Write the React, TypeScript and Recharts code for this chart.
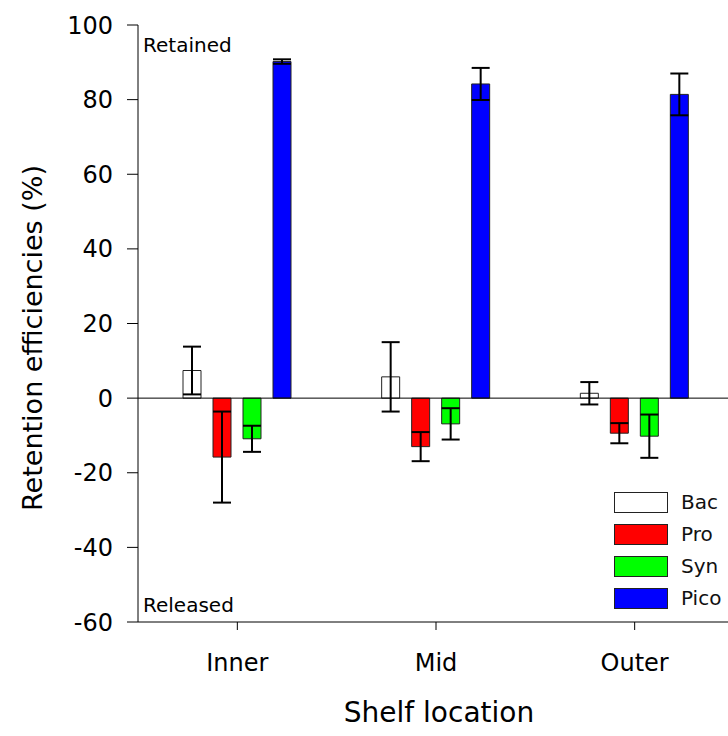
import React from 'react';
import { BarChart, Bar, XAxis, YAxis, ErrorBar, ReferenceLine, Legend } from 'recharts';

const categories = ['Inner', 'Mid', 'Outer'];
const bac = [7.4, 5.7, 1.3];
const bacErr = [6.4, 9.3, 3.0];
const pro = [-15.8, -13.0, -9.4];
const proErr = [12.2, 3.9, 2.7];
const syn = [-10.9, -6.9, -10.2];
const synErr = [3.5, 4.2, 5.8];
const pico = [90.2, 84.2, 81.4];
const picoErr = [0.6, 4.3, 5.6];
const yTicks = [-60, -40, -20, 0, 20, 40, 60, 80, 100];

const SERIES = [
  { key: 'Bac', fill: '#ffffff' },
  { key: 'Pro', fill: '#ff0000' },
  { key: 'Syn', fill: '#00ff00' },
  { key: 'Pico', fill: '#0000ff' },
];

const data = categories.map((name, i) => ({
  name,
  Bac: bac[i],
  BacErr: bacErr[i],
  Pro: pro[i],
  ProErr: proErr[i],
  Syn: syn[i],
  SynErr: synErr[i],
  Pico: pico[i],
  PicoErr: picoErr[i],
}));

const FONT = '"DejaVu Sans", Verdana, sans-serif';

const LegendBox = () => (
  <div style={{ fontFamily: FONT }}>
    {SERIES.map((s) => (
      <div key={s.key} style={{ display: 'flex', alignItems: 'center', height: 32 }}>
        <div style={{ width: 52, height: 19, background: s.fill, border: '1px solid #222' }} />
        <span style={{ marginLeft: 13, fontSize: 20, color: '#111' }}>{s.key}</span>
      </div>
    ))}
  </div>
);

export default function App() {
  return (
    <div style={{ position: 'absolute', left: 0, top: 0, width: 728, height: 736, overflow: 'hidden', background: '#fff' }}>
      <BarChart
        width={734}
        height={736}
        data={data}
        margin={{ top: 25, right: 0, bottom: 0, left: 0 }}
        barSize={18}
        barGap={12}
        style={{ fontFamily: FONT }}
      >
        <XAxis
          dataKey="name"
          height={114}
          axisLine={{ stroke: '#000', strokeWidth: 1 }}
          tickLine={{ stroke: '#000' }}
          tickSize={8}
          tickMargin={24}
          tick={{ fontSize: 24, fill: '#000' }}
        />
        <YAxis
          width={138}
          domain={[-60, 100]}
          ticks={yTicks}
          interval={0}
          axisLine={{ stroke: '#000', strokeWidth: 1 }}
          tickLine={{ stroke: '#000' }}
          tickSize={11}
          tickMargin={14}
          tick={{ fontSize: 24, fill: '#000' }}
        />
        <ReferenceLine y={0} stroke="#000" strokeWidth={1} />
        {SERIES.map((s) => (
          <Bar key={s.key} dataKey={s.key} name={s.key} fill={s.fill} stroke="#222" strokeWidth={1} isAnimationActive={false}>
            <ErrorBar dataKey={`${s.key}Err`} width={9} stroke="#000" strokeWidth={2} direction="y" />
          </Bar>
        ))}
        <Legend
          content={<LegendBox />}
          layout="vertical"
          verticalAlign="middle"
          align="center"
          wrapperStyle={{ position: 'absolute', left: 614, top: 486, width: 110 }}
        />
        <text x={143} y={52} fontSize={20} fill="#000" fontFamily={FONT}>Retained</text>
        <text x={143} y={612} fontSize={20} fill="#000" fontFamily={FONT}>Released</text>
        <text
          x={32}
          y={338}
          fontSize={27}
          fill="#000"
          textAnchor="middle"
          dominantBaseline="central"
          transform="rotate(-90 32 338)"
          fontFamily={FONT}
        >
          Retention efficiencies (%)
        </text>
        <text x={439} y={722} fontSize={28} fill="#000" textAnchor="middle" fontFamily={FONT}>
          Shelf location
        </text>
      </BarChart>
    </div>
  );
}
